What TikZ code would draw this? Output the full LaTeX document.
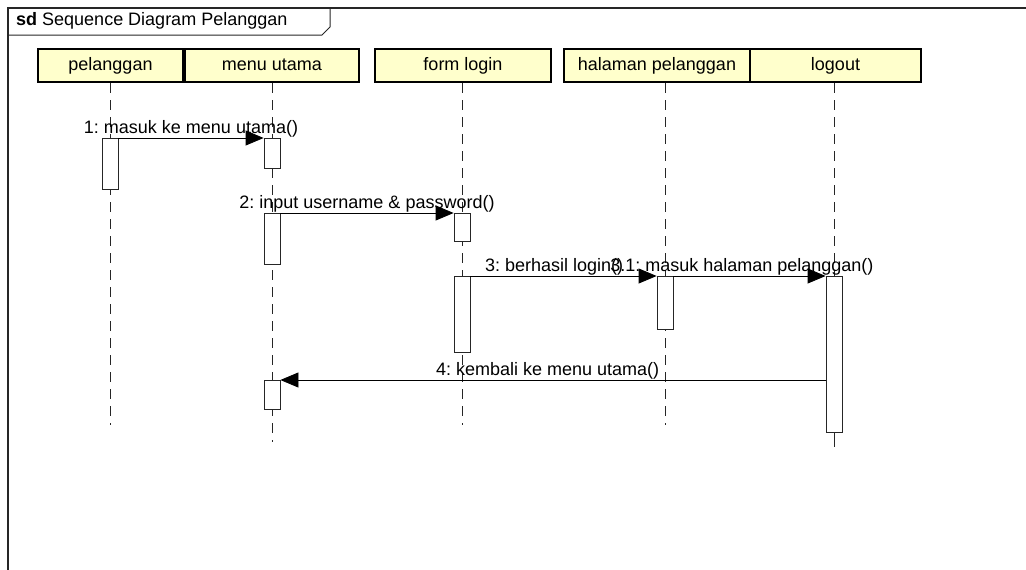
\documentclass[tikz,border=0pt]{standalone}
\usepackage{fontspec}
\setmainfont{Liberation Sans}
\frenchspacing
\usetikzlibrary{arrows.meta}
\definecolor{headfill}{RGB}{255,255,204}
\tikzset{head/.style={draw,line width=2.5pt,fill=headfill,minimum height=33pt,inner sep=0pt,text height=13pt,text depth=4pt,font=\fontsize{18}{20}\selectfont},
         act/.style={draw=black!85,fill=white,line width=0.8pt,minimum width=16pt,inner sep=0pt,anchor=north},
         life/.style={draw=black!85,line width=0.9pt,dash pattern=on 10pt off 7pt},
         msg/.style={-{Triangle[length=18pt,width=15pt]},line width=0.8pt},
         lbl/.style={above,inner sep=0pt,font=\fontsize{18}{20}\selectfont},
        }

\begin{document}
\begin{tikzpicture}[x=1pt,y=-1pt]
        \useasboundingbox (0,0) rectangle (1026,570);
        \draw[line width=1.2pt,black!85](1026,8)--(8,8)--(8,570);
        \draw[line width=1pt,black!85](8,35)--(322,35)--(330,27)--(330,8);
        \node[anchor=west,inner sep=0pt,font=\fontsize{18}{20}\selectfont](title)at(16,21){\textbf{sd} Sequence Diagram Pelanggan};

        \node[head, minimum width=145pt](pel)at(110.5,65.5){pelanggan};
        \node[head, minimum width=174pt](menu)at(272,65.5){menu utama};
        \node[head, minimum width=176pt](form)at(463,65.5){form login};
        \node[head, minimum width=186pt](hal)at(657,65.5){halaman pelanggan};
        \node[head, minimum width=171pt](logout)at(835.5,65.5){logout};

        \coordinate(pelend)at(110,425);
        \coordinate(menuend)at(272,442);
        \coordinate(formend)at(462,425);
        \coordinate(halend)at(665,425);
        \coordinate(logoutend)at(834,447);

        \draw[life]([xshift=-0.5pt]pel.south)--(pelend);
        \draw[life](menu.south)--(menuend);
        \draw[life]([xshift=-1pt]form.south)--(formend);
        \draw[life]([xshift=8pt]hal.south)--(halend);
        \draw[life]([xshift=-1.5pt]logout.south)--(834,430);

        \node[act, minimum height=51pt](a1)at(110,138){};
        \node[act, minimum height=30pt](m1)at(272,138){};
        \node[act, minimum height=51pt](m2)at(272,213){};
        \node[act, minimum height=28pt](f1)at(462,213){};
        \node[act, minimum height=76pt](f2)at(462,276){};
        \node[act, minimum height=53pt](h1)at(665,276){};
        \node[act, minimum height=156pt](l1)at(834,276){};
        \node[act, minimum height=29pt](m3)at(272,380){};
        \draw[line width=0.9pt,black!85](l1.south)--(logoutend);

        \draw[msg](a1.north east)--(m1.north west)node[lbl,midway]{1: masuk ke menu utama()};
        \draw[msg](m2.north east)--(f1.north west)node[lbl,midway]{2: input username \& password()};
        \draw[msg](f2.north east)--(h1.north west)node[lbl,pos=0.45]{3: berhasil login()};
        \draw[msg](h1.north east)--(l1.north west)node[lbl,pos=0.45]{3.1: masuk halaman pelanggan()};
        \draw[msg](l1.west |- m3.north)--(m3.north east)node[lbl,pos=0.51]{4: kembali ke menu utama()};
    \end{tikzpicture}
\end{document}
